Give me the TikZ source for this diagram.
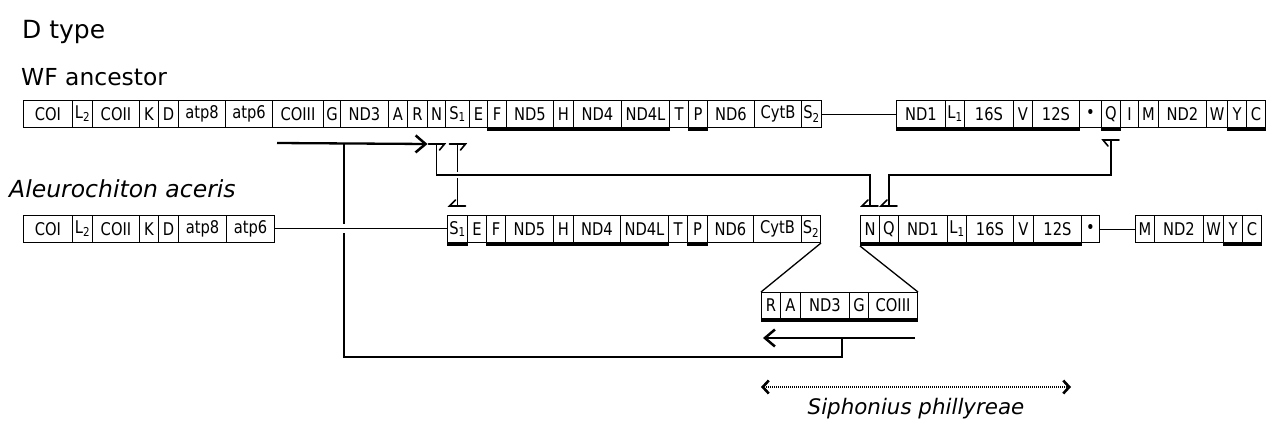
\documentclass[tikz,border=0pt]{standalone}
\usepackage{fontspec}
\setmainfont{DejaVu Sans}
\newfontfamily\boxfont[FakeStretch=0.84]{DejaVu Sans}
\usetikzlibrary{arrows.meta,calc}
\begin{document}
\begin{tikzpicture}[x=1pt,y=-1pt,
  gene/.style={draw, line width=1pt, inner sep=0pt, minimum height=27pt, anchor=north west,
    font=\boxfont\fontsize{17.5}{17.5}\selectfont},
  ul/.style={line width=3pt},
  rowline/.style={line width=1pt},
  conn/.style={line width=1.6pt},
  thick line/.style={line width=2.3pt},
  bigarrow/.style={line width=2.3pt, -{Straight Barb[length=10pt,width=17pt,line width=2.5pt]}},
  dotarrow/.style={line width=1.6pt, dash pattern=on 1pt off 1pt,
    {Straight Barb[length=6pt,width=13pt,line width=2.6pt]}-{Straight Barb[length=6pt,width=13pt,line width=2.6pt]}},
  title/.style={anchor=base west, inner sep=0pt},
  topR/.pic={\draw[conn, line cap=round] (-8,0) -- (8,0) -- (3,6);},
  topL/.pic={\draw[conn, line cap=round] (8,0) -- (-8,0) -- (-3,6);},
  botL/.pic={\draw[conn, line cap=round] (8,0) -- (-8,0) -- (-2,-6);}
]
\useasboundingbox (0,0) rectangle (1268,423);

% titles
\node[title, font=\fontsize{25}{25}\selectfont] (dtype) at (22,38) {D type};
\node[title, font=\fontsize{23.4}{24}\selectfont] (wf) at (21,85) {WF ancestor};
\node[title, font=\fontsize{23.5}{24}\selectfont\itshape] (aa) at (9,197) {Aleurochiton aceris};

% loop line (drawn first, crossed later by the row line)
\coordinate (lp1) at (344,143);
\coordinate (lpc) at (842,357);
\coordinate (lpb) at (842,338);
\draw[thick line] (lp1) |- (lpc) -- (lpb);

% row lines
\coordinate (batp6e) at (274,228.5);
\coordinate (bS1w) at (447,228.5);
\draw[rowline, preaction={draw=white, line width=9pt}] (batp6e) -- (bS1w);

% top row
\foreach \a/\b/\t/\n in {23/72/COI/COI, 72/92/L\textsubscript{2}/L2, 92/139/COII/COII, 139/158/K/K,
  158/178/D/D, 178/225/atp8/atp8, 225/272/atp6/atp6, 272/323/COIII/COIII, 323/340/G/G,
  340/388/ND3/ND3, 388/407/A/A, 407/427/R/R, 427/445/N/N, 445/469/S\textsubscript{1}/S1,
  469/487/E/E, 487/506/F/F, 506/553/ND5/ND5, 553/573/H/H, 573/621/ND4/ND4, 621/669/ND4L/ND4L,
  669/688/T/T, 688/707/P/P, 707/754/ND6/ND6, 754/801/CytB/CytB, 801/821/S\textsubscript{2}/S2,
  896/945/ND1/ND1, 945/964/L\textsubscript{1}/L1, 964/1013/16S/16S, 1013/1032/V/V,
  1032/1079/12S/12S, 1079/1101/•/dot, 1101/1120/Q/Q, 1120/1138/I/I, 1138/1158/M/M,
  1158/1206/ND2/ND2, 1206/1227/W/W, 1227/1246/Y/Y, 1246/1265/C/C}
  \node[gene, minimum width={(\b-\a)*1pt}] (t\n) at (\a,100) {\t};
\draw[rowline] (tS2.east) -- (tND1.west);
\draw[ul] ([yshift=-1.5pt]tF.south west) -- ([yshift=-1.5pt]tND4L.south east);
\draw[ul] ([yshift=-1.5pt]tP.south west) -- ([yshift=-1.5pt]tP.south east);
\draw[ul] ([yshift=-1.5pt]tND1.south west) -- ([yshift=-1.5pt]t12S.south east);
\draw[ul] ([yshift=-1.5pt]tQ.south west) -- ([yshift=-1.5pt]tQ.south east);
\draw[ul] ([yshift=-1.5pt]tY.south west) -- ([yshift=-1.5pt]tC.south east);

% bottom row
\foreach \a/\b/\t/\n in {23/72/COI/COI, 72/92/L\textsubscript{2}/L2, 92/139/COII/COII, 139/158/K/K,
  158/178/D/D, 178/226/atp8/atp8, 226/274/atp6/atp6,
  447/467/S\textsubscript{1}/S1, 467/486/E/E, 486/505/F/F, 505/553/ND5/ND5, 553/573/H/H,
  573/620/ND4/ND4, 620/668/ND4L/ND4L, 668/687/T/T, 687/707/P/P, 707/753/ND6/ND6,
  753/801/CytB/CytB, 801/820/S\textsubscript{2}/S2,
  860/879/N/N, 879/898/Q/Q, 898/947/ND1/ND1, 947/966/L\textsubscript{1}/L1, 966/1013/16S/16S,
  1013/1033/V/V, 1033/1081/12S/12S, 1081/1099/•/dot,
  1135/1154/M/M, 1154/1203/ND2/ND2, 1203/1223/W/W, 1223/1242/Y/Y, 1242/1261/C/C}
  \node[gene, minimum width={(\b-\a)*1pt}] (b\n) at (\a,215) {\t};
\draw[rowline] (bdot.east) -- (bM.west);
\draw[ul] ([yshift=-1.5pt]bS1.south west) -- ([yshift=-1.5pt]bS1.south east);
\draw[ul] ([yshift=-1.5pt]bF.south west) -- ([yshift=-1.5pt]bND4L.south east);
\draw[ul] ([yshift=-1.5pt]bP.south west) -- ([yshift=-1.5pt]bP.south east);
\draw[ul] ([yshift=-1.5pt]bN.south west) -- ([yshift=-1.5pt]b12S.south east);
\draw[ul] ([yshift=-1.5pt]bY.south west) -- ([yshift=-1.5pt]bC.south east);

% inserted block
\foreach \a/\b/\t/\n in {761/780/R/R, 780/800/A/A, 800/849/ND3/ND3, 849/868/G/G, 868/917/COIII/COIII}
  \node[gene, minimum width={(\b-\a)*1pt}, minimum height=26pt] (i\n) at (\a,292) {\t};
\draw[ul] ([yshift=-1.5pt]iR.south west) -- ([yshift=-1.5pt]iCOIII.south east);
\draw[line width=1.3pt] (bS2.south east) -- (iR.north west);
\draw[line width=1.3pt] ([yshift=-3pt]bN.south west) -- (iCOIII.north east);

% top arrow
\coordinate (arrS) at (277,143);
\coordinate (aTop) at ([yshift=-16pt]tN.south);
\draw[bigarrow] (arrS) -- ([xshift=-9pt]aTop);

% splice connectors
\coordinate (bTop) at ([yshift=-16pt]tS1.south);
\coordinate (bBot) at ([yshift=9pt]bS1.north);
\draw[conn] (bTop) -- (bBot);
\pic at (bTop) {topR};
\pic at (bBot) {botL};

\coordinate (aBot) at ([yshift=9pt]bN.north);
\draw[conn, preaction={draw=white, line width=6pt}] (aTop) -- ++(0,31) -| (aBot);
\pic at (aTop) {topR};
\pic at (aBot) {botL};

\coordinate (cTop) at ([yshift=-12pt]tQ.south);
\coordinate (cBot) at ([yshift=9pt]bQ.north);
\draw[conn] (cTop) -- ++(0,35) -| (cBot);
\pic at (cTop) {topL};
\pic at (cBot) {botL};

% bottom arrow
\coordinate (ba1) at (915,338);
\coordinate (ba2) at (763,338);
\draw[bigarrow] (ba1) -- (ba2);

% species range
\coordinate (dl) at (761,387);
\coordinate (dr) at (1071,387);
\draw[dotarrow] (dl) -- (dr);
\node[anchor=base, inner sep=0pt, font=\fontsize{21.4}{22}\selectfont\itshape] (sp) at (916,414) {Siphonius phillyreae};
\end{tikzpicture}
\end{document}
